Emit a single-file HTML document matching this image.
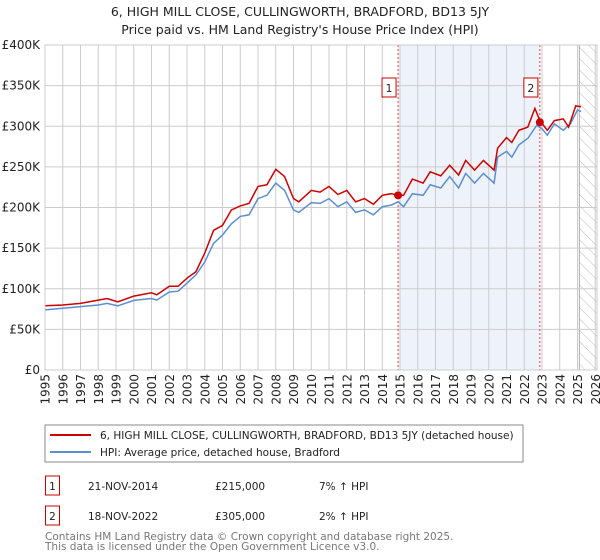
<!DOCTYPE html>
<html><head><meta charset="utf-8"><style>
body{margin:0;background:#fff;}
svg{display:block;font-family:"DejaVu Sans","Liberation Sans",sans-serif;}
</style></head><body>
<svg id="chart" width="600" height="560" xmlns="http://www.w3.org/2000/svg">
<text x="300" y="16" text-anchor="middle" font-size="12.5" fill="#222">6, HIGH MILL CLOSE, CULLINGWORTH, BRADFORD, BD13 5JY</text>
<text x="300" y="34" text-anchor="middle" font-size="12.5" fill="#222">Price paid vs. HM Land Registry's House Price Index (HPI)</text>
<g id="plot"></g>
<rect x="45" y="425" width="478" height="37" fill="#fff" stroke="#888"/>
<line x1="50" y1="435" x2="91" y2="435" stroke="#cc0000" stroke-width="2"/>
<text x="100" y="439" font-size="10.5" fill="#222">6, HIGH MILL CLOSE, CULLINGWORTH, BRADFORD, BD13 5JY (detached house)</text>
<line x1="50" y1="452" x2="91" y2="452" stroke="#5b8fd0" stroke-width="2"/>
<text x="100" y="456" font-size="10.5" fill="#222">HPI: Average price, detached house, Bradford</text>
<rect x="45.5" y="476" width="14" height="19" fill="#fff" stroke="#cc0000"/>
<text x="52.5" y="490" text-anchor="middle" font-size="10.5" fill="#222">1</text>
<text x="88" y="490" font-size="10.5" fill="#222">21-NOV-2014</text>
<text x="215" y="490" font-size="10.5" fill="#222">£215,000</text>
<text x="319" y="490" font-size="10.5" fill="#222">7% ↑ HPI</text>
<rect x="45.5" y="506" width="14" height="19" fill="#fff" stroke="#cc0000"/>
<text x="52.5" y="520" text-anchor="middle" font-size="10.5" fill="#222">2</text>
<text x="88" y="520" font-size="10.5" fill="#222">18-NOV-2022</text>
<text x="215" y="520" font-size="10.5" fill="#222">£305,000</text>
<text x="319" y="520" font-size="10.5" fill="#222">2% ↑ HPI</text>
<text x="45" y="540" font-size="10.5" fill="#777">Contains HM Land Registry data © Crown copyright and database right 2025.</text>
<text x="45" y="550" font-size="10.5" fill="#777">This data is licensed under the Open Government Licence v3.0.</text>
</svg>
<script>
const hpiYears=[1995,1996,1997,1998,1998.5,1999.1,2000,2001,2001.3,2002,2002.5,2003,2003.5,2004,2004.5,2005,2005.5,2006,2006.5,2007,2007.5,2008,2008.5,2009,2009.3,2010,2010.5,2011,2011.5,2012,2012.5,2013,2013.5,2014,2014.5,2014.9,2015.2,2015.7,2016.3,2016.7,2017.3,2017.8,2018.3,2018.7,2019.2,2019.7,2020.3,2020.5,2021,2021.3,2021.7,2022.2,2022.7,2023,2023.3,2023.7,2024.2,2024.6,2025,2025.2];
const hpiValues=[74,76,78,80,82,79,85.6,88,86,96,97,107,117,133,156,166,180,189,191,211,215,230,221,197,194,206,205,211,201,207,194,197,191,201,203,207,201,217,215,228,224,238,224,242,230,242,230,262,269,262,277,285,301,297,289,303,295,303,320,318];
const priceYears=[1995,1996,1997,1998,1998.5,1999.1,2000,2001,2001.3,2002,2002.5,2003,2003.5,2004,2004.5,2005,2005.5,2006,2006.5,2007,2007.5,2008,2008.5,2009,2009.3,2010,2010.5,2011,2011.5,2012,2012.5,2013,2013.5,2014,2014.5,2014.9,2015.2,2015.7,2016.3,2016.7,2017.3,2017.8,2018.3,2018.7,2019.2,2019.7,2020.3,2020.5,2021,2021.3,2021.7,2022.2,2022.6,2022.88,2023.3,2023.7,2024.2,2024.5,2024.9,2025.2];
const priceValues=[79,80,82,86,88,84,91,95,92.5,103,103,113,121,144,172,178,197,202,205,226,228,247,238,211,207,221,219,226,216,221,207,211,204,215,217,215,215,235,230,244,239,252,240,258,246,258,246,273,286,280,295,299,322,307,295,307,309,299,325,324];
const saleYears=[2014.89,2022.88];
const saleValues=[215,305];
const saleLabels=["1","2"];
const yTicks=[0,50,100,150,200,250,300,350,400];
const yTickLabels=["£0","£50K","£100K","£150K","£200K","£250K","£300K","£350K","£400K"];
const xTicks=[1995,1996,1997,1998,1999,2000,2001,2002,2003,2004,2005,2006,2007,2008,2009,2010,2011,2012,2013,2014,2015,2016,2017,2018,2019,2020,2021,2022,2023,2024,2025,2026];

const NS="http://www.w3.org/2000/svg";
const L=45,R=597,T=45,B=370;
const X=y=>L+(y-1995)*17.75;
const Y=v=>B-(v/400)*(B-T);
const g=document.getElementById('plot');
function mk(tag,attrs,parent){const e=document.createElementNS(NS,tag);for(const k in attrs)e.setAttribute(k,attrs[k]);(parent||g).appendChild(e);return e;}
let e;
e=mk('rect',{x:X(2014.89),y:T,width:X(2022.88)-X(2014.89),height:B-T,fill:'#eef3fb'});


const defs=mk('defs',{});
const pat=mk('pattern',{id:'hatch',width:8,height:8,patternUnits:'userSpaceOnUse',patternTransform:'rotate(-45)'},defs);
mk('line',{x1:0,y1:0,x2:0,y2:8,stroke:'#bbb','stroke-width':1},pat);
e=mk('rect',{x:X(2025.1),y:T,width:R-X(2025.1),height:B-T,fill:'url(#hatch)',stroke:'#999','stroke-width':0.8});


xTicks.forEach((t,i)=>{
  e=mk('line',{x1:X(t),y1:T,x2:X(t),y2:B,stroke:'#ccc','stroke-width':1});
  
  
  e=mk('text',{x:0,y:0,transform:`translate(${X(t)+4.5},${B+4}) rotate(-90)`,'text-anchor':'end','font-size':12,fill:'#222'});
  e.textContent=t;
  
  
});
yTicks.forEach((t,i)=>{
  e=mk('line',{x1:L,y1:Y(t),x2:R,y2:Y(t),stroke:'#ccc','stroke-width':1});
  
  
  e=mk('text',{x:L-5,y:Y(t)+4,'text-anchor':'end','font-size':12,fill:'#222'});
  e.textContent=yTickLabels[i];
  
  
});
saleYears.forEach((s,i)=>{
  e=mk('line',{x1:X(s),y1:T,x2:X(s),y2:B,stroke:'#e04040','stroke-width':1,'stroke-dasharray':'2,2'});
  
  
});
function path(xs,vs){return xs.map((x,i)=>(i?'L':'M')+X(x).toFixed(1)+','+Y(vs[i]).toFixed(1)).join('');}
e=mk('path',{d:path(hpiYears,hpiValues),fill:'none',stroke:'#5b8fd0','stroke-width':1.5});


e=mk('path',{d:path(priceYears,priceValues),fill:'none',stroke:'#cc0000','stroke-width':1.5});


saleYears.forEach((s,i)=>{
  e=mk('circle',{cx:X(s),cy:Y(saleValues[i]),r:4,fill:'#cc0000'});
  
  
  const bx=X(s)-9-7;
  e=mk('rect',{x:bx,y:78,width:14,height:19,fill:'#fff',stroke:'#cc0000'});
  
  
  e=mk('text',{x:bx+7,y:92,'text-anchor':'middle','font-size':11,fill:'#222'});
  e.textContent=saleLabels[i];
  
  
});
e=mk('rect',{x:L,y:T,width:R-L,height:B-T,fill:'none',stroke:'#ccc'});


</script>
</body></html>
